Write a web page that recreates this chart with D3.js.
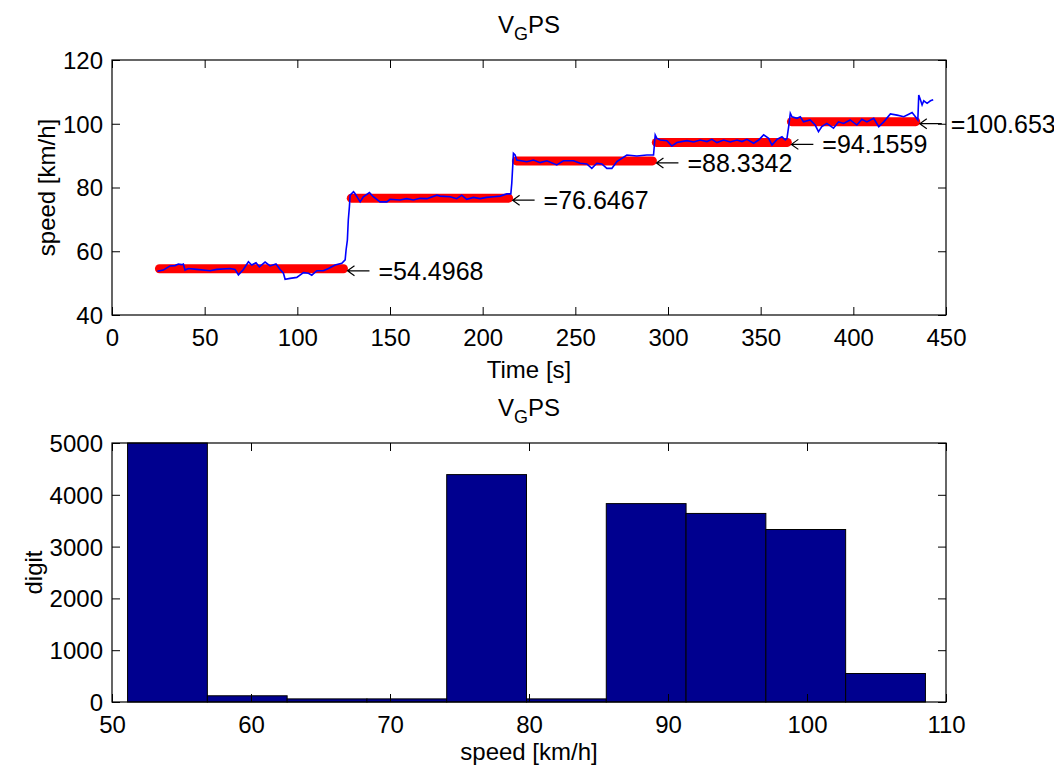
<!DOCTYPE html>
<html>
<head>
<meta charset="utf-8">
<script src="https://cdn.jsdelivr.net/npm/d3@7"></script>
<style>
  body { margin: 0; background: #fff; }
  svg { font-family: "Liberation Sans", Arial, sans-serif; }
</style>
</head>
<body>
<svg width="1054" height="773"></svg>
<script>
// GPS speed trace (time in s, speed in km/h)
const timeS = [24.5, 27.7, 31.3, 34.0, 35.8, 37.6, 38.5, 39.4, 41.2, 45.7, 52.9, 56.5, 63.7, 66.4, 68.2, 70.9,
  73.6, 75.4, 77.7, 79.5, 82.6, 85.3, 88.5, 90.7, 92.5, 93.4, 96.1, 99.7, 103.3, 106.0, 107.8, 110.5,
  114.0, 116.8, 120.4, 124.0, 125.8, 126.3, 127.0, 127.5, 128.1, 128.5, 130.3, 131.0, 133.9, 135.6,
  138.9, 141.0, 144.6, 148.3, 150.0, 155.4, 159.0, 162.6, 166.2, 169.9, 175.3, 177.0, 182.4, 186.0,
  188.7, 191.4, 195.0, 198.6, 202.2, 205.8, 209.4, 213.0, 215.2, 215.7, 216.6, 217.5, 218.4, 223.8,
  227.4, 231.0, 234.6, 240.0, 243.6, 249.0, 252.6, 256.2, 258.9, 261.6, 264.3, 267.0, 269.7, 272.4,
  277.8, 283.2, 288.6, 292.2, 293.1, 294.0, 295.8, 299.4, 302.1, 304.8, 310.2, 313.8, 317.4, 321.0,
  323.7, 326.4, 330.0, 333.6, 337.2, 339.9, 342.6, 346.2, 348.9, 351.6, 354.3, 356.1, 358.8, 361.5,
  363.3, 364.2, 365.1, 366.0, 366.9, 369.6, 371.4, 373.1, 376.7, 379.4, 381.2, 383.0, 385.7, 389.3,
  392.0, 394.7, 398.3, 401.9, 404.6, 407.3, 411.0, 413.7, 416.4, 420.0, 423.6, 427.2, 429.9, 431.7,
  433.5, 434.8, 435.3, 436.2, 437.1, 438.0, 439.8, 441.6, 443.1];
const speedKmh = [53.7, 54.1, 55.4, 55.5, 56.0, 55.8, 56.0, 54.1, 54.6, 54.3, 53.9, 54.3, 54.6, 54.3, 52.6, 54.3,
  56.7, 55.7, 56.4, 55.1, 56.6, 55.4, 56.0, 54.3, 53.1, 51.2, 51.5, 51.8, 53.3, 53.1, 52.5, 53.9,
  53.9, 54.6, 55.7, 56.2, 57.3, 60.4, 63.5, 69.8, 74.0, 77.6, 78.7, 78.2, 75.5, 77.1,
  78.4, 77.1, 75.5, 75.5, 76.3, 76.1, 76.5, 76.1, 76.6, 76.5, 77.6, 77.3, 77.1, 76.5,
  77.6, 76.3, 76.9, 76.5, 76.9, 77.1, 77.3, 78.0, 78.0, 81.3, 90.7, 90.2, 88.6, 88.1,
  88.6, 87.8, 88.4, 87.1, 88.4, 88.4, 87.6, 87.4, 86.0, 87.6, 87.4, 86.0, 86.0, 88.1,
  90.2, 89.9, 90.2, 90.2, 96.5, 95.4, 94.9, 94.7, 93.0, 94.1, 94.7, 94.3, 94.9, 94.4,
  95.1, 94.1, 94.9, 94.3, 94.9, 94.4, 95.1, 93.9, 94.9, 96.5, 95.4, 93.3, 95.1, 95.9,
  94.9, 95.4, 99.1, 103.3, 102.2, 101.7, 102.2, 100.6, 101.2, 99.6, 97.5, 99.1, 100.1, 98.6,
  100.6, 100.1, 101.2, 99.6, 101.4, 100.6, 101.7, 99.1, 100.6, 103.1, 102.7, 102.2, 103.0, 103.5,
  102.2, 101.2, 109.0, 107.5, 105.9, 107.2, 106.4, 107.2, 107.5];

// constant-speed segments and their means
const segStart = [25.6, 129.1, 218.2, 293.7, 366.6];
const segEnd = [124.9, 214.0, 291.6, 364.4, 433.7];
const segMean = [54.4968, 76.6467, 88.3342, 94.1559, 100.653];
const segLabels = ["=54.4968", "=76.6467", "=88.3342", "=94.1559", "=100.653"];

// histogram of speed
const histEdges = [51.12, 56.86, 62.60, 68.34, 74.08, 79.82, 85.56, 91.30, 97.04, 102.78, 108.52];
const histCounts = [5000, 120, 60, 60, 4390, 60, 3830, 3640, 3330, 550];

const timeTicks = d3.range(0, 451, 50);
const speedTicks = [40, 60, 80, 100, 120];
const histXTicks = [50, 60, 70, 80, 90, 100, 110];
const histYTicks = [0, 1000, 2000, 3000, 4000, 5000];

const svg = d3.select("svg");
const fs = 24;

const left = 112, right = 946;
const top1 = 60, bottom1 = 315;
const top2 = 443, bottom2 = 702;

const x1 = d3.scaleLinear().domain([0, 450]).range([left, right]);
const y1 = d3.scaleLinear().domain([40, 120]).range([bottom1, top1]);
const x2 = d3.scaleLinear().domain([50, 110]).range([left, right]);
const y2 = d3.scaleLinear().domain([0, 5000]).range([bottom2, top2]);

const plain = d3.format("d");

// draw a MATLAB style box with inward ticks on all sides
function drawAxes(x, y, xt, yt, top, bottom) {
    const g = svg.append("g");
    g.append("g").attr("transform", `translate(0,${bottom})`)
        .call(d3.axisBottom(x).tickValues(xt).tickFormat(plain).tickSizeInner(-8).tickSizeOuter(0).tickPadding(14))
        .call(s => s.selectAll("text").style("font-size", fs + "px").attr("fill", "#000"));
    g.append("g").attr("transform", `translate(0,${top})`)
        .call(d3.axisTop(x).tickValues(xt).tickSizeInner(-8).tickSizeOuter(0).tickFormat(""));
    g.append("g").attr("transform", `translate(${left},0)`)
        .call(d3.axisLeft(y).tickValues(yt).tickFormat(plain).tickSizeInner(-8).tickSizeOuter(0).tickPadding(9))
        .call(s => s.selectAll("text").style("font-size", fs + "px").attr("fill", "#000").attr("dy", "0.35em"));
    g.append("g").attr("transform", `translate(${right},0)`)
        .call(d3.axisRight(y).tickValues(yt).tickSizeInner(-8).tickSizeOuter(0).tickFormat(""));
    g.selectAll(".domain").remove();
    g.selectAll(".tick line").attr("stroke", "#000");
    g.selectAll(".tick text").attr("font-family", null);
    g.append("rect")
        .attr("x", left).attr("y", top)
        .attr("width", right - left).attr("height", bottom - top)
        .attr("fill", "none").attr("stroke", "#000").attr("stroke-width", 1.2);
    return g;
}

function title(cx, baseline) {
    const t = svg.append("text")
        .attr("x", cx).attr("y", baseline)
        .attr("text-anchor", "middle")
        .style("font-size", fs + "px");
    t.append("tspan").text("V");
    t.append("tspan").attr("dy", 7).style("font-size", "18px").text("G");
    t.append("tspan").attr("dy", -7).text("PS");
}

// ---- Plot 1: speed vs time ----
const g1 = svg.append("g");
g1.selectAll(".seg")
    .data(segMean)
    .join("line")
    .attr("x1", (d, i) => x1(segStart[i]))
    .attr("x2", (d, i) => x1(segEnd[i]))
    .attr("y1", d => y1(d))
    .attr("y2", d => y1(d))
    .attr("stroke", "#ff0000")
    .attr("stroke-width", 9)
    .attr("stroke-linecap", "round");

const line = d3.line()
    .x((d, i) => x1(timeS[i]))
    .y(d => y1(d));
g1.append("path")
    .attr("d", line(speedKmh))
    .attr("fill", "none")
    .attr("stroke", "#0000ff")
    .attr("stroke-width", 1.6);

// arrows with mean labels
const ann = g1.selectAll(".ann")
    .data(segMean)
    .join("g")
    .attr("transform", (d, i) => `translate(${x1(segEnd[i]) + 4},${y1(d) + 2})`);
ann.append("path")
    .attr("d", "M0,0 L22,0 M7,-5 L0,0 L7,5")
    .attr("fill", "none")
    .attr("stroke", "#000")
    .attr("stroke-width", 1.2);
ann.append("text")
    .attr("x", 31)
    .attr("dy", "0.36em")
    .style("font-size", "25px")
    .text((d, i) => segLabels[i]);

drawAxes(x1, y1, timeTicks, speedTicks, top1, bottom1);
title((left + right) / 2, 33);

svg.append("text")
    .attr("x", (left + right) / 2).attr("y", 378)
    .attr("text-anchor", "middle")
    .style("font-size", fs + "px")
    .text("Time [s]");
svg.append("text")
    .attr("transform", `translate(55,${(top1 + bottom1) / 2}) rotate(-90)`)
    .attr("text-anchor", "middle")
    .style("font-size", fs + "px")
    .text("speed [km/h]");

// ---- Plot 2: histogram ----
const g2 = svg.append("g");
g2.selectAll("rect")
    .data(histCounts)
    .join("rect")
    .attr("x", (d, i) => x2(histEdges[i]))
    .attr("width", (d, i) => x2(histEdges[i + 1]) - x2(histEdges[i]))
    .attr("y", d => y2(d))
    .attr("height", d => y2(0) - y2(d))
    .attr("fill", "#00008f")
    .attr("stroke", "#000")
    .attr("stroke-width", 1);

drawAxes(x2, y2, histXTicks, histYTicks, top2, bottom2);
title((left + right) / 2, 416);

svg.append("text")
    .attr("x", (left + right) / 2).attr("y", 760)
    .attr("text-anchor", "middle")
    .style("font-size", fs + "px")
    .text("speed [km/h]");
svg.append("text")
    .attr("transform", `translate(42,${(top2 + bottom2) / 2}) rotate(-90)`)
    .attr("text-anchor", "middle")
    .style("font-size", fs + "px")
    .text("digit");
</script>
</body>
</html>
